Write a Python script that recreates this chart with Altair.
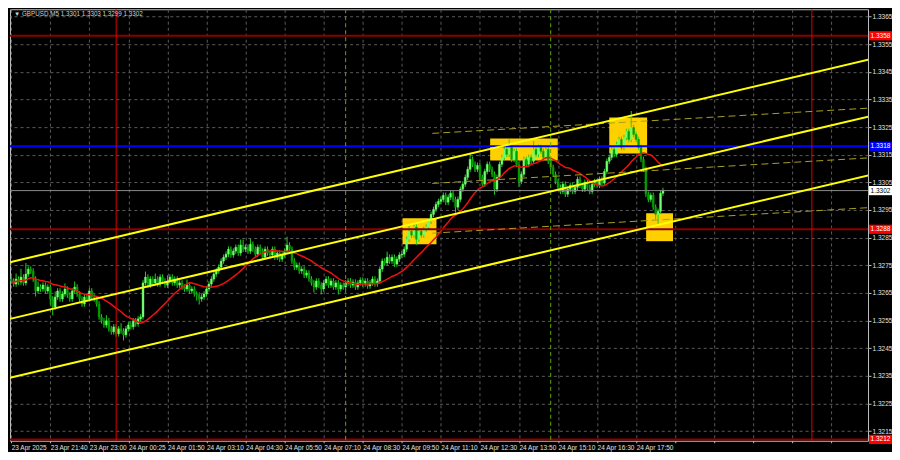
import altair as alt
import pandas as pd

# ---------------- data ----------------
title_text = "▼ GBPUSD,M5  1.3301 1.3303 1.3299 1.3302"

time_labels = ["23 Apr 2025", "23 Apr 21:40", "23 Apr 23:00", "24 Apr 00:25", "24 Apr 01:50",
               "24 Apr 03:10", "24 Apr 04:30", "24 Apr 05:50", "24 Apr 07:10", "24 Apr 08:30",
               "24 Apr 09:50", "24 Apr 11:10", "24 Apr 12:30", "24 Apr 13:50", "24 Apr 15:10",
               "24 Apr 16:30", "24 Apr 17:50"]
grid_bars = [0, 16, 32, 48, 64, 80, 96, 112, 128, 144, 160, 176, 192, 208, 224, 240, 256,
             272, 288, 304, 320, 336]
price_ticks = [1.3215, 1.3225, 1.3235, 1.3245, 1.3255, 1.3265, 1.3275, 1.3285,
               1.3295, 1.3305, 1.3315, 1.3325, 1.3335, 1.3345, 1.3355, 1.3365]

first_open = 1.32700
closes = [
    1.32693, 1.32682, 1.32700, 1.32689, 1.32707, 1.32686, 1.32718, 1.32736, 1.32729, 1.32700, 1.32657, 1.32671, 1.32664, 1.32678, 1.32657, 1.32671,
    1.32628, 1.32599, 1.32635, 1.32657, 1.32628, 1.32646, 1.32664, 1.32642, 1.32628, 1.32657, 1.32671, 1.32646, 1.32628, 1.32610, 1.32635, 1.32628,
    1.32657, 1.32635, 1.32628, 1.32610, 1.32563, 1.32549, 1.32534, 1.32549, 1.32520, 1.32509, 1.32527, 1.32502, 1.32520, 1.32512, 1.32498, 1.32520,
    1.32534, 1.32527, 1.32549, 1.32538, 1.32556, 1.32563, 1.32686, 1.32707, 1.32678, 1.32700, 1.32686, 1.32700, 1.32682, 1.32707, 1.32693, 1.32678,
    1.32693, 1.32707, 1.32686, 1.32700, 1.32678, 1.32686, 1.32671, 1.32664, 1.32678, 1.32657, 1.32664, 1.32646, 1.32642, 1.32628, 1.32635, 1.32646,
    1.32664, 1.32682, 1.32700, 1.32718, 1.32729, 1.32743, 1.32765, 1.32779, 1.32790, 1.32808, 1.32787, 1.32801, 1.32815, 1.32794, 1.32823, 1.32808,
    1.32815, 1.32801, 1.32826, 1.32808, 1.32790, 1.32815, 1.32801, 1.32779, 1.32808, 1.32794, 1.32787, 1.32808, 1.32779, 1.32794, 1.32772, 1.32787,
    1.32801, 1.32823, 1.32808, 1.32765, 1.32743, 1.32750, 1.32729, 1.32736, 1.32714, 1.32722, 1.32700, 1.32686, 1.32671, 1.32693, 1.32678, 1.32664,
    1.32686, 1.32700, 1.32678, 1.32693, 1.32671, 1.32686, 1.32664, 1.32678, 1.32671, 1.32686, 1.32693, 1.32678, 1.32689, 1.32671, 1.32686, 1.32696,
    1.32682, 1.32693, 1.32675, 1.32686, 1.32700, 1.32682, 1.32693, 1.32736, 1.32765, 1.32758, 1.32779, 1.32765, 1.32779, 1.32754, 1.32772, 1.32787,
    1.32790, 1.32808, 1.32844, 1.32873, 1.32859, 1.32888, 1.32844, 1.32873, 1.32859, 1.32880, 1.32888, 1.32909, 1.32934, 1.32952, 1.32970, 1.32981,
    1.32988, 1.33003, 1.32978, 1.32996, 1.33010, 1.32988, 1.32960, 1.32988, 1.33025, 1.33043, 1.33068, 1.33097, 1.33133, 1.33115, 1.33097, 1.33111,
    1.33068, 1.33043, 1.33089, 1.33115, 1.33097, 1.33079, 1.33025, 1.33068, 1.33115, 1.33140, 1.33169, 1.33151, 1.33176, 1.33133, 1.33162, 1.33115,
    1.33053, 1.33079, 1.33133, 1.33115, 1.33140, 1.33126, 1.33169, 1.33151, 1.33176, 1.33162, 1.33140, 1.33169, 1.33126, 1.33104, 1.33079, 1.33053,
    1.33032, 1.33017, 1.33043, 1.33007, 1.33025, 1.33039, 1.33017, 1.33032, 1.33061, 1.33039, 1.33025, 1.33050, 1.33032, 1.33017, 1.33043, 1.33053,
    1.33039, 1.33061, 1.33047, 1.33089, 1.33126, 1.33140, 1.33169, 1.33151, 1.33187, 1.33205, 1.33176, 1.33212, 1.33234, 1.33205, 1.33248, 1.33223,
    1.33205, 1.33176, 1.33133, 1.33097, 1.33007, 1.32988, 1.33003, 1.32960, 1.32934, 1.32945, 1.33010, 1.33020,
]
upper_wick_pips = [
    1, 1, 2, 1, 3, 1, 4, 1, 1, 1, 1, 2, 1, 1, 1, 1,
    1, 1, 2, 1, 1, 1, 2, 1, 1, 1, 2, 1, 1, 1, 1, 1,
    1, 1, 1, 1, 1, 1, 1, 2, 1, 1, 1, 1, 1, 2, 1, 1,
    1, 1, 1, 1, 1, 1, 1, 2, 1, 1, 1, 2, 1, 1, 1, 1,
    2, 1, 1, 1, 1, 1, 1, 1, 2, 1, 1, 1, 1, 1, 1, 1,
    1, 1, 1, 1, 1, 1, 1, 1, 1, 1, 1, 1, 1, 1, 2, 2,
    1, 1, 2, 1, 1, 1, 1, 1, 1, 1, 1, 1, 1, 1, 1, 1,
    1, 3, 1, 1, 1, 1, 1, 1, 1, 1, 1, 1, 1, 1, 1, 1,
    1, 1, 1, 1, 1, 1, 1, 1, 1, 1, 1, 1, 1, 1, 1, 1,
    1, 1, 1, 1, 1, 1, 1, 1, 1, 1, 2, 1, 1, 1, 1, 1,
    1, 1, 1, 2, 1, 1, 1, 1, 1, 1, 1, 1, 1, 1, 1, 1,
    1, 1, 1, 1, 1, 1, 1, 1, 1, 1, 1, 1, 2, 1, 1, 1,
    1, 1, 1, 1, 1, 1, 1, 1, 1, 1, 1, 1, 3, 1, 1, 1,
    1, 1, 1, 1, 1, 1, 3, 1, 1, 1, 1, 1, 1, 1, 1, 1,
    1, 1, 1, 1, 1, 1, 1, 1, 1, 1, 1, 1, 1, 1, 1, 1,
    1, 1, 1, 1, 1, 1, 1, 1, 1, 1, 1, 1, 1, 1, 6, 1,
    1, 1, 1, 1, 1, 1, 1, 1, 1, 1, 1, 1,
]
lower_wick_pips = [
    1, 1, 1, 1, 1, 1, 1, 1, 1, 1, 2, 1, 1, 1, 1, 1,
    2, 3, 1, 1, 1, 1, 1, 1, 1, 1, 1, 1, 1, 1, 1, 1,
    1, 1, 1, 1, 1, 1, 1, 1, 1, 1, 1, 1, 1, 1, 2, 1,
    1, 1, 1, 1, 1, 1, 1, 1, 1, 1, 1, 1, 1, 1, 1, 1,
    1, 1, 1, 1, 1, 1, 1, 1, 1, 1, 1, 1, 2, 2, 1, 1,
    1, 1, 1, 1, 1, 1, 1, 1, 1, 1, 1, 1, 1, 1, 1, 1,
    1, 1, 1, 1, 1, 1, 1, 1, 1, 1, 1, 1, 1, 1, 1, 1,
    1, 1, 1, 1, 1, 1, 1, 1, 1, 1, 1, 1, 2, 1, 1, 2,
    1, 1, 1, 1, 1, 1, 2, 1, 1, 1, 1, 1, 1, 1, 1, 1,
    1, 1, 1, 1, 1, 1, 1, 1, 1, 1, 1, 1, 1, 1, 1, 1,
    1, 1, 1, 1, 1, 1, 2, 1, 1, 1, 1, 1, 1, 1, 1, 1,
    1, 1, 1, 1, 1, 1, 2, 1, 1, 1, 1, 1, 1, 1, 1, 1,
    1, 1, 1, 1, 1, 1, 2, 1, 1, 1, 1, 1, 1, 1, 1, 1,
    2, 1, 1, 1, 1, 1, 1, 1, 1, 1, 1, 1, 1, 1, 1, 1,
    1, 1, 1, 1, 1, 1, 1, 1, 1, 1, 1, 1, 1, 1, 1, 1,
    1, 1, 1, 1, 1, 1, 1, 1, 1, 1, 1, 1, 1, 1, 1, 1,
    1, 1, 1, 1, 1, 1, 1, 1, 2, 4, 1, 1,
]

# horizontal levels
red_levels = [1.3358, 1.3288, 1.3212]
blue_level = [1.3318]
current_price = [1.3302]
# vertical markers (bar index)
day_lines = [43, 328]
session_lines = [137, 221]

# yellow price channel (bar index, price)
chan_name = ["upper", "upper", "middle", "middle", "lower", "lower"]
chan_bar = [-0.5, 354.6, -0.5, 354.6, -0.5, 354.6]
chan_price = [1.32761, 1.33501, 1.32556, 1.33295, 1.32343, 1.33082]

# thin dashed regression channel
reg_name = ["upper", "upper", "middle", "middle", "lower", "lower"]
reg_bar = [172.5, 354.6, 172.5, 354.6, 172.5, 354.6]
reg_price = [1.33227, 1.33320, 1.33046, 1.33140, 1.32866, 1.32960]

# yellow signal boxes
box_bar1 = [160.3, 196.2, 245.0, 260.1]
box_bar2 = [174.2, 223.9, 260.5, 271.1]
box_top = [1.32920, 1.33208, 1.33284, 1.32938]
box_bottom = [1.32826, 1.33129, 1.33154, 1.32837]

# price tags on the right scale
tag_price = [1.3358, 1.3318, 1.3302, 1.3288, 1.3212]
tag_label = ["1.3358", "1.3318", "1.3302", "1.3288", "1.3212"]
tag_fill = ["#ff0000", "#0000ff", "#ffffff", "#ff0000", "#ff0000"]
tag_ink = ["#ffffff", "#ffffff", "#000000", "#ffffff", "#ffffff"]

# ---------------- tables ----------------
PIP = 0.0001
opens = [first_open] + closes[:-1]
rows = []
for i, (o, c, uw, lw) in enumerate(zip(opens, closes, upper_wick_pips, lower_wick_pips)):
    rows.append({"i": i, "open": o, "close": c,
                 "high": max(o, c) + uw * PIP, "low": min(o, c) - lw * PIP,
                 "dir": "up" if c >= o else "down"})
bars = pd.DataFrame(rows)

W, H = 859, 432
FONT = "Liberation Sans"
xs = alt.Scale(domain=[-0.5, 351], nice=False, zero=False)
ys = alt.Scale(domain=[1.32115, 1.33676], nice=False, zero=False)

labels_js = "[" + ",".join("'" + t + "'" for t in time_labels) + "]"
x_axis = alt.Axis(values=grid_bars, grid=True, domain=False, ticks=True, tickSize=2,
                  tickColor="#c0c0c0", labelAlign="left", labelPadding=2, labelFlush=False,
                  labelOverlap=False,
                  labelExpr=f"datum.value / 16 < {len(time_labels)} ? {labels_js}[datum.value / 16] : ''",
                  title=None)
y_axis = alt.Axis(values=price_ticks, orient="right", format=".4f", grid=True, domain=False,
                  ticks=True, tickSize=3, tickColor="#c0c0c0", labelPadding=1,
                  labelOverlap=False, labelFlush=False, title=None)


def X(field):
    return alt.X(field, scale=xs, axis=x_axis, title=None)


def Y(field):
    return alt.Y(field, scale=ys, axis=y_axis, title=None)


boxes = alt.Chart(pd.DataFrame({"b1": box_bar1, "b2": box_bar2, "p1": box_top, "p2": box_bottom})).mark_rect(
    color="#FFD000").encode(x=X("b1:Q"), x2="b2:Q", y=Y("p1:Q"), y2="p2:Q")

wicks = alt.Chart(bars).mark_rule(color="#22D022", strokeWidth=1).encode(
    x=X("i:Q"), y=Y("low:Q"), y2="high:Q")
candle_colors = alt.Scale(domain=["up", "down"], range=["#70FF70", "#00A000"])
bodies = alt.Chart(bars).transform_calculate(
    x1="datum.i - 0.4", x2="datum.i + 0.4").mark_rect(strokeWidth=0.4).encode(
    x=X("x1:Q"), x2="x2:Q", y=Y("open:Q"), y2="close:Q",
    color=alt.Color("dir:N", scale=candle_colors, legend=None),
    stroke=alt.Stroke("dir:N", scale=candle_colors, legend=None))

ma = alt.Chart(bars).transform_window(
    ma="mean(close)", frame=[-19, 0], sort=[alt.SortField("i")]).mark_line(
    color="#F01010", strokeWidth=1.5).encode(x=X("i:Q"), y=Y("ma:Q"))

cur_h = alt.Chart(pd.DataFrame({"p": current_price})).mark_rule(color="#8a8a8a", strokeWidth=1).encode(
    y=Y("p:Q"))
red_h = alt.Chart(pd.DataFrame({"p": red_levels})).mark_rule(color="#8B0000", strokeWidth=2).encode(
    y=Y("p:Q"))
blue_h = alt.Chart(pd.DataFrame({"p": blue_level})).mark_rule(color="#0000FF", strokeWidth=2).encode(
    y=Y("p:Q"))
day_v = alt.Chart(pd.DataFrame({"b": day_lines})).mark_rule(color="#E00000", strokeWidth=1).encode(
    x=X("b:Q"))
ses_v = alt.Chart(pd.DataFrame({"b": session_lines})).mark_rule(
    color="#5FA800", strokeWidth=1, strokeDash=[4, 3]).encode(x=X("b:Q"))

reg = alt.Chart(pd.DataFrame({"n": reg_name, "b": reg_bar, "p": reg_price})).mark_line(
    color="#A8A020", strokeWidth=1, strokeDash=[7, 4], clip=True).encode(
    x=X("b:Q"), y=Y("p:Q"), detail="n:N")
chan = alt.Chart(pd.DataFrame({"n": chan_name, "b": chan_bar, "p": chan_price})).mark_line(
    color="#FFFF00", strokeWidth=2, clip=True).encode(x=X("b:Q"), y=Y("p:Q"), detail="n:N")

tags_df = pd.DataFrame({"p": tag_price, "t": tag_label, "f": tag_fill, "k": tag_ink})
tag_box = alt.Chart(tags_df).mark_point(
    shape="M-1,-0.4H1V0.4H-1Z", size=529, filled=True, opacity=1, strokeWidth=0).encode(
    x=alt.value(W + 12.5), y=Y("p:Q"), color=alt.Color("f:N", scale=None))
tag_txt = alt.Chart(tags_df).mark_text(font=FONT, fontSize=6.5, align="center", baseline="middle").encode(
    x=alt.value(W + 12.5), y=Y("p:Q"), text="t:N", color=alt.Color("k:N", scale=None))

title = alt.Chart(pd.DataFrame({"t": [title_text]})).mark_text(
    font=FONT, fontSize=6.3, align="left", baseline="middle", color="#d0d0d0").encode(
    x=alt.value(4), y=alt.value(5), text="t:N")

chart = alt.layer(boxes, wicks, bodies, ma, cur_h, red_h, blue_h, day_v, ses_v, reg, chan,
                  tag_box, tag_txt, title).properties(
    width=W, height=H, background="#000000",
    padding={"left": 0, "top": 0, "right": 0, "bottom": 0}).configure_view(
    stroke="#c0c0c0", strokeWidth=1).configure_axis(
    labelFont=FONT, labelFontSize=6.5, labelColor="#e0e0e0",
    gridColor="#5a5a5a", gridDash=[3, 3], gridWidth=1)

chart.save("out.html", embed_options={"renderer": "svg", "actions": False})
